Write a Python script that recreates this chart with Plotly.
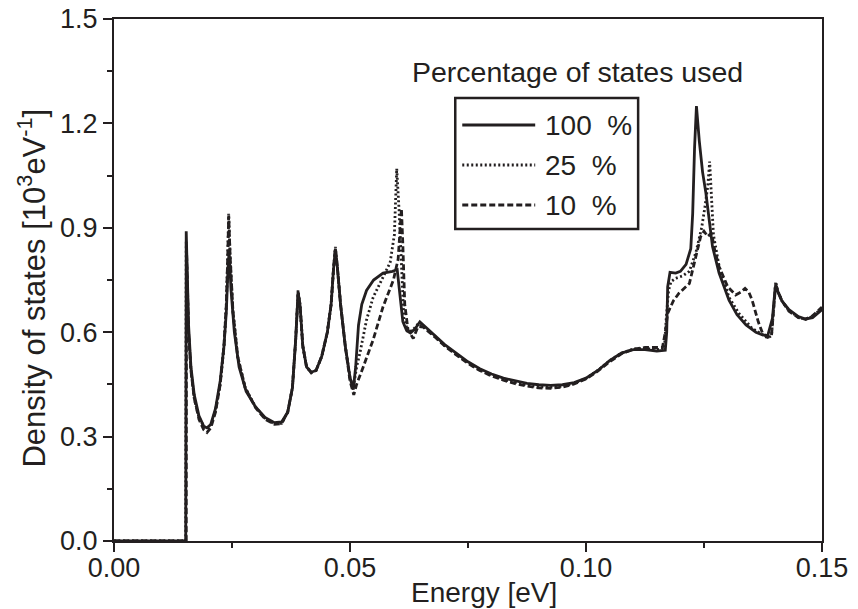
import plotly.graph_objects as go

# ---- data ----
energy_100 = [0.0, 0.0152, 0.0153, 0.0158, 0.0163, 0.0170, 0.0180, 0.0190, 0.0197, 0.0205, 0.0215, 0.0225,
              0.0233, 0.0238, 0.0242, 0.0244, 0.0248, 0.0255, 0.0265, 0.0280, 0.0300, 0.0320, 0.0340, 0.0355,
              0.0368, 0.0378, 0.0385, 0.0390, 0.0394, 0.0400, 0.0408, 0.0418, 0.0428, 0.0440, 0.0452, 0.0460,
              0.0465, 0.0469, 0.0473, 0.0480, 0.0490, 0.0500, 0.0507, 0.0512, 0.0518, 0.0525, 0.0535, 0.0550,
              0.0570, 0.0590, 0.0600, 0.0605, 0.0612, 0.0620, 0.0628, 0.0638, 0.0648, 0.0660, 0.0680, 0.0700,
              0.0725, 0.0750, 0.0775, 0.0800, 0.0825, 0.0850, 0.0875, 0.0900, 0.0925, 0.0950, 0.0975, 0.1000,
              0.1025, 0.1050, 0.1075, 0.1100, 0.1125, 0.1150, 0.1168, 0.1171, 0.1173, 0.1178, 0.1190, 0.1200,
              0.1212, 0.1222, 0.1226, 0.1230, 0.1234, 0.1240, 0.1247, 0.1254, 0.1268, 0.1282, 0.1303, 0.1320,
              0.1339, 0.1360, 0.1374, 0.1385, 0.1395, 0.1401, 0.1405, 0.1415, 0.1430, 0.1450, 0.1465, 0.1480,
              0.1500]
dos_100 = [0.0, 0.0, 0.89, 0.62, 0.50, 0.42, 0.36, 0.33, 0.325, 0.335, 0.38, 0.46,
           0.56, 0.66, 0.80, 0.83, 0.72, 0.60, 0.50, 0.43, 0.385, 0.355, 0.340, 0.342,
           0.37, 0.44, 0.58, 0.715, 0.68, 0.56, 0.50, 0.485, 0.49, 0.53, 0.60, 0.68,
           0.78, 0.84, 0.79, 0.68, 0.56, 0.47, 0.435, 0.50, 0.62, 0.68, 0.72, 0.75,
           0.77, 0.775, 0.78, 0.72, 0.63, 0.605, 0.598, 0.61, 0.63, 0.615, 0.59, 0.565,
           0.540, 0.515, 0.495, 0.480, 0.468, 0.460, 0.453, 0.449, 0.447, 0.449, 0.455, 0.468,
           0.490, 0.518, 0.540, 0.550, 0.550, 0.546, 0.548, 0.60, 0.73, 0.772, 0.770, 0.775,
           0.795, 0.84, 0.94, 1.13, 1.25, 1.15, 1.06, 1.00, 0.846, 0.770, 0.692, 0.650,
           0.621, 0.600, 0.592, 0.590, 0.64, 0.73, 0.72, 0.69, 0.665, 0.645, 0.638, 0.642,
           0.665]

energy_25 = [0.0, 0.0152, 0.0153, 0.0158, 0.0163, 0.0170, 0.0180, 0.0190, 0.0197, 0.0205, 0.0215, 0.0225,
             0.0233, 0.0238, 0.0241, 0.0243, 0.0246, 0.0252, 0.0262, 0.0278, 0.0300, 0.0320, 0.0340, 0.0355,
             0.0368, 0.0378, 0.0385, 0.0390, 0.0394, 0.0400, 0.0408, 0.0418, 0.0428, 0.0440, 0.0452, 0.0460,
             0.0465, 0.0469, 0.0473, 0.0480, 0.0490, 0.0500, 0.0507, 0.0514, 0.0521, 0.0535, 0.0549, 0.0570,
             0.0585, 0.0594, 0.0599, 0.0604, 0.0609, 0.0614, 0.0623, 0.0632, 0.0645, 0.0660, 0.0680, 0.0700,
             0.0725, 0.0750, 0.0775, 0.0800, 0.0825, 0.0850, 0.0875, 0.0900, 0.0925, 0.0950, 0.0975, 0.1000,
             0.1025, 0.1050, 0.1075, 0.1100, 0.1125, 0.1150, 0.1166, 0.1170, 0.1175, 0.1180, 0.1190, 0.1205,
             0.1219, 0.1233, 0.1245, 0.1252, 0.1258, 0.1262, 0.1266, 0.1270, 0.1282, 0.1303, 0.1324, 0.1352,
             0.1375, 0.1385, 0.1393, 0.1398, 0.1402, 0.1406, 0.1415, 0.1430, 0.1450, 0.1465, 0.1480, 0.1500]
dos_25 = [0.0, 0.0, 0.86, 0.60, 0.49, 0.41, 0.355, 0.33, 0.322, 0.332, 0.375, 0.45,
          0.56, 0.68, 0.82, 0.94, 0.82, 0.66, 0.53, 0.44, 0.385, 0.352, 0.337, 0.338,
          0.37, 0.44, 0.58, 0.72, 0.68, 0.56, 0.50, 0.485, 0.49, 0.53, 0.60, 0.68,
          0.78, 0.845, 0.79, 0.68, 0.56, 0.47, 0.44, 0.50, 0.54, 0.635, 0.70, 0.76,
          0.80, 0.88, 1.07, 0.95, 0.80, 0.64, 0.60, 0.605, 0.625, 0.612, 0.588, 0.562,
          0.537, 0.512, 0.492, 0.476, 0.464, 0.455, 0.448, 0.443, 0.442, 0.445, 0.453, 0.467,
          0.490, 0.518, 0.540, 0.552, 0.553, 0.550, 0.552, 0.64, 0.72, 0.745, 0.755, 0.762,
          0.775, 0.83, 0.90, 0.96, 1.02, 1.09, 0.98, 0.88, 0.79, 0.70, 0.654, 0.611,
          0.592, 0.583, 0.59, 0.68, 0.745, 0.72, 0.69, 0.662, 0.643, 0.637, 0.645, 0.670]

energy_10 = [0.0, 0.0153, 0.01535, 0.0158, 0.0163, 0.0170, 0.0180, 0.0190, 0.0197, 0.0205, 0.0215, 0.0225,
             0.0233, 0.0238, 0.0241, 0.0243, 0.0246, 0.0252, 0.0262, 0.0278, 0.0300, 0.0320, 0.0340, 0.0355,
             0.0368, 0.0378, 0.0385, 0.0390, 0.0394, 0.0400, 0.0408, 0.0418, 0.0428, 0.0440, 0.0452, 0.0460,
             0.0465, 0.0469, 0.0473, 0.0480, 0.0490, 0.0500, 0.0508, 0.0514, 0.0528, 0.0549, 0.0570, 0.0592,
             0.0602, 0.0606, 0.0609, 0.0612, 0.0616, 0.0623, 0.0634, 0.0644, 0.0655, 0.0680, 0.0700, 0.0725,
             0.0750, 0.0775, 0.0800, 0.0825, 0.0850, 0.0875, 0.0900, 0.0925, 0.0950, 0.0975, 0.1000, 0.1025,
             0.1050, 0.1075, 0.1100, 0.1125, 0.1150, 0.1162, 0.1168, 0.1173, 0.1185, 0.1197, 0.1219, 0.1233,
             0.1243, 0.1250, 0.1258, 0.1266, 0.1272, 0.1282, 0.1300, 0.1317, 0.1328, 0.1337, 0.1345, 0.1352,
             0.1365, 0.1374, 0.1385, 0.1393, 0.1398, 0.1402, 0.1406, 0.1415, 0.1430, 0.1450, 0.1465, 0.1480,
             0.1500]
dos_10 = [0.0, 0.0, 0.85, 0.60, 0.49, 0.41, 0.35, 0.32, 0.312, 0.325, 0.37, 0.45,
          0.56, 0.68, 0.82, 0.935, 0.82, 0.66, 0.53, 0.44, 0.383, 0.350, 0.335, 0.337,
          0.37, 0.44, 0.58, 0.71, 0.68, 0.56, 0.50, 0.483, 0.49, 0.53, 0.60, 0.68,
          0.78, 0.84, 0.79, 0.68, 0.56, 0.46, 0.42, 0.45, 0.50, 0.578, 0.673, 0.75,
          0.81, 0.88, 0.955, 0.85, 0.68, 0.606, 0.582, 0.616, 0.615, 0.586, 0.561, 0.535,
          0.510, 0.490, 0.474, 0.462, 0.452, 0.445, 0.440, 0.439, 0.442, 0.451, 0.466, 0.488,
          0.515, 0.538, 0.551, 0.556, 0.555, 0.556, 0.60, 0.654, 0.69, 0.712, 0.740, 0.817,
          0.875, 0.89, 0.875, 0.885, 0.84, 0.788, 0.731, 0.707, 0.715, 0.726, 0.715, 0.692,
          0.63, 0.597, 0.585, 0.59, 0.68, 0.74, 0.72, 0.69, 0.66, 0.642, 0.637, 0.647,
          0.672]

series_names = ["100\u00a0 %", "25\u00a0 %", "10\u00a0 %"]
legend_title = "Percentage of states used"
x_title = "Energy [eV]"
y_title = "Density of states [10<sup>3</sup>eV<sup>-1</sup>]"

# ---- styling ----
INK = "#231f20"
FONT = "Liberation Sans, Arial, sans-serif"
dashes = ["solid", "2px,2.5px", "6px,3px"]
LW = 2.8

W, H = 858, 609
ML, MR, MT, MB = 113.5, 36, 19, 68
PW, PH = W - ML - MR, H - MT - MB


def px_x(p):
    return (p - ML) / PW


def px_y(p):
    return (H - MB - p) / PH


fig = go.Figure()
for xs, ys, name, d in zip([energy_100, energy_25, energy_10], [dos_100, dos_25, dos_10], series_names, dashes):
    fig.add_trace(go.Scatter(x=xs, y=ys, mode="lines", name=name,
                             line=dict(color=INK, width=LW, dash=d), showlegend=False))

axis_common = dict(showline=True, linecolor=INK, linewidth=2, mirror=True, ticks="outside",
                   ticklen=9, tickwidth=2, tickcolor=INK, showgrid=False, zeroline=False,
                   automargin=False, tickfont=dict(family=FONT, size=27, color=INK))

fig.update_xaxes(range=[0, 0.15], dtick=0.05, tick0=0, tickformat=".2f", ticklabelstandoff=-7,
                 minor=dict(ticks="outside", ticklen=5, tickwidth=2, tickcolor=INK, dtick=0.025),
                 **axis_common)
fig.update_yaxes(range=[0, 1.5], dtick=0.3, tick0=0, tickformat=".1f",
                 minor=dict(ticks="outside", ticklen=5, tickwidth=2, tickcolor=INK, dtick=0.15),
                 **axis_common)

annotations = [
    dict(text=x_title, x=px_x(484), y=0, xref="paper", yref="paper", xanchor="center", yanchor="middle",
         yshift=-51, showarrow=False, font=dict(family=FONT, size=28, color=INK)),
    dict(text=y_title, x=px_x(31), y=px_y(288), xref="paper", yref="paper", xanchor="center",
         yanchor="middle", textangle=-90, showarrow=False, font=dict(family=FONT, size=31, color=INK)),
    dict(text=legend_title, x=px_x(577), y=px_y(72), xref="paper", yref="paper", xanchor="center",
         yanchor="middle", showarrow=False, font=dict(family=FONT, size=28.5, color=INK)),
]

shapes = [dict(type="rect", xref="paper", yref="paper", x0=px_x(455), x1=px_x(638),
               y0=px_y(229), y1=px_y(98), line=dict(color=INK, width=2.5), fillcolor="rgba(0,0,0,0)")]
rows = [125, 165, 205]
for name, d, ry in zip(series_names, dashes, rows):
    shapes.append(dict(type="line", xref="paper", yref="paper", x0=px_x(462), x1=px_x(535),
                       y0=px_y(ry), y1=px_y(ry), line=dict(color=INK, width=LW, dash=d)))
    annotations.append(dict(text=name, x=px_x(543), y=px_y(ry), xref="paper", yref="paper",
                            xanchor="left", yanchor="middle", showarrow=False,
                            font=dict(family=FONT, size=28, color=INK)))

fig.update_layout(width=W, height=H, margin=dict(l=ML, r=MR, t=MT, b=MB, pad=0, autoexpand=False),
                  paper_bgcolor="white", plot_bgcolor="white", showlegend=False,
                  annotations=annotations, shapes=shapes)

fig.write_html("out.html")
